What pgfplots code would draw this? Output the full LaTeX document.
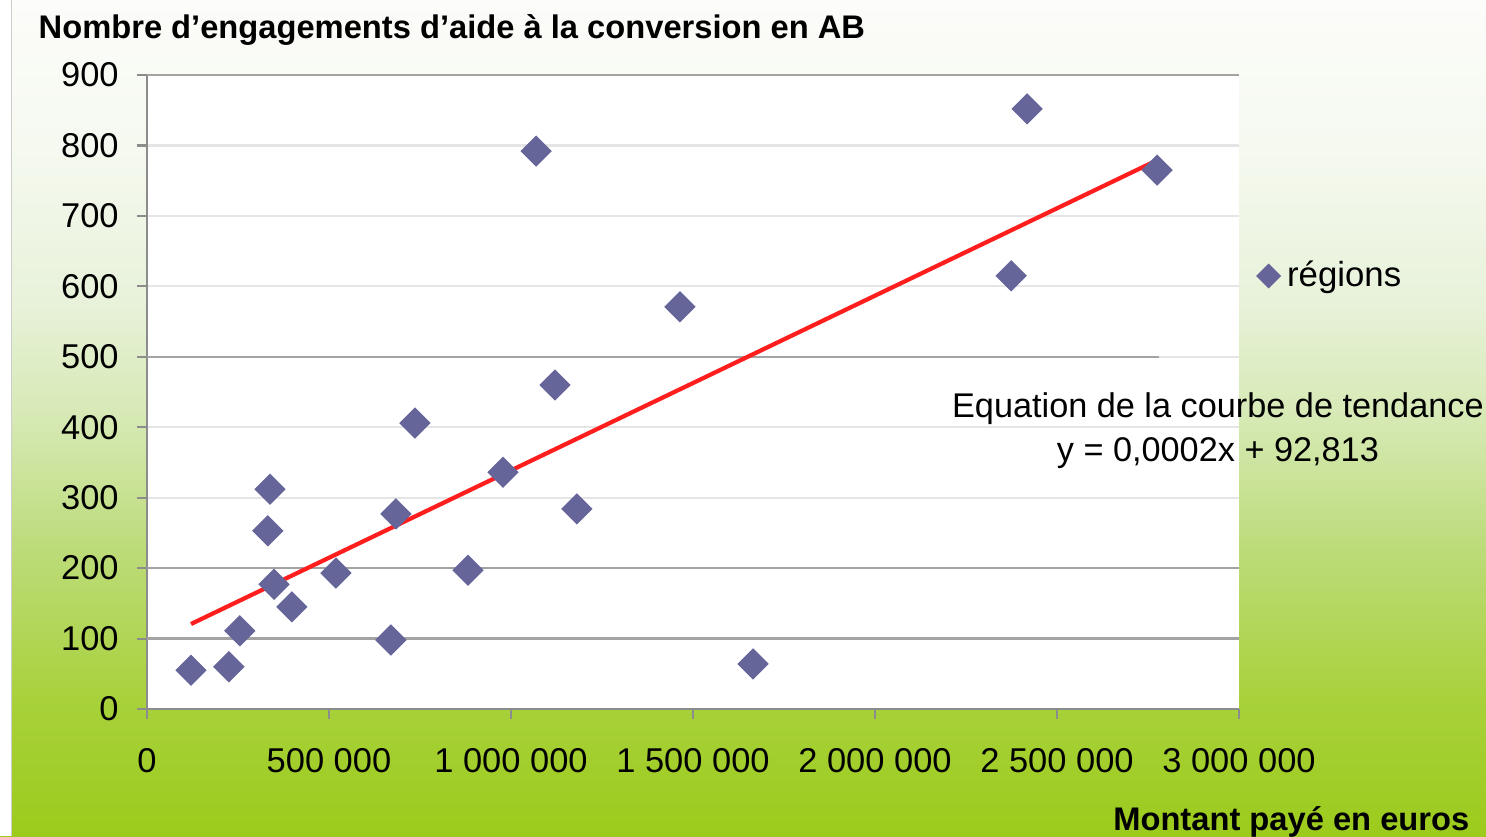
\documentclass[border=0pt]{standalone}
\usepackage{pgfplots}
\pgfplotsset{compat=1.18}
\usepackage{fontspec}
\setmainfont{Liberation Sans}
\definecolor{mk}{HTML}{65659A}
\definecolor{trend}{HTML}{FF1E1E}
\definecolor{axgray}{HTML}{8C8C8C}
\definecolor{g0}{HTML}{9CCB1C}
\definecolor{g1}{HTML}{A8D13A}
\definecolor{g2}{HTML}{BCDB78}
\definecolor{g3}{HTML}{D6E9B4}
\definecolor{g4}{HTML}{E8F2DA}
\definecolor{g5}{HTML}{F5F9EF}
\definecolor{g6}{HTML}{FCFCFA}
\pgfdeclareverticalshading{bgshade}{100bp}{color(0bp)=(g0); color(25bp)=(g0); color(33bp)=(g1); color(42bp)=(g2); color(50bp)=(g3); color(57bp)=(g4); color(66bp)=(g5); color(75bp)=(g6); color(100bp)=(g6)}
\pgfplotstableread{
x y
121000 55
225000 60
255000 111
338000 312
332000 253
349000 177
398000 145
519000 193
670000 98
684000 277
736000 406
882000 197
978000 336
1069000 792
1121000 460
1181000 284
1464000 571
1665000 64
2374000 615
2418000 852
2775000 765
}\regions
\begin{document}
\begin{tikzpicture}[x=1mm,y=1mm]
\useasboundingbox (0,0) rectangle (148.6,83.6);
\shade[shading=bgshade] (0,0) rectangle (148.6,83.6);
\fill[white] (0,0) rectangle (1.1,83.6);
\draw[gray!40, line width=0.3pt] (1.15,0) -- (1.15,83.6);
\begin{axis}[
  at={(14.7mm,12.7mm)}, anchor=south west,
  scale only axis, width=109.2mm, height=63.4mm,
  xmin=0, xmax=3000000, ymin=0, ymax=900,
  axis background/.style={fill=white},
  axis x line*=bottom, axis y line*=left,
  axis line style={axgray, line width=0.8pt, -},
  xtick={0,500000,1000000,1500000,2000000,2500000,3000000},
  xticklabels={0,500 000,1 000 000,1 500 000,2 000 000,2 500 000,3 000 000},
  scaled x ticks=false,
  ytick={0,100,200,300,400,500,600,700,800,900},
  tick align=outside, major tick length=1mm,
  tick style={axgray, line width=0.6pt},
  ymajorgrids, grid style={gray!20, line width=0.6pt},
  tick label style={font=\fontsize{9.8}{11}\selectfont, black},
  yticklabel style={xshift=-0.6mm},
  xticklabel style={yshift=-1.7mm},
  /pgf/number format/assume math mode=true,
  clip=false,
  legend style={at={(rel axis cs:1.016,0.683)}, anchor=west, draw=none, fill=none,
    font=\fontsize{9.9}{11}\selectfont, inner sep=0pt},
  legend cell align=left,
  legend image code/.code={\draw[#1, mark size=2.3pt] plot coordinates {(0.15cm,0cm)};},
]
\draw[axgray!80, line width=0.7pt] (axis cs:0,100) -- (axis cs:3000000,100);
\draw[axgray!80, line width=0.7pt] (axis cs:0,200) -- (axis cs:3000000,200);
\draw[axgray!80, line width=0.7pt] (axis cs:0,500) -- (axis cs:2780000,500);
\draw[axgray!80, line width=0.7pt] (axis cs:0,900) -- (axis cs:3000000,900);
\addplot[only marks, mark=square*, mark size=2.95pt, mark options={rotate=45, fill=mk, draw=mk}]
  table[x=x, y=y] {\regions};
\addlegendentry{régions}
\addplot[trend, line width=1.2pt, forget plot] coordinates {(121000,120.7) (2775000,779)};
\node[anchor=base, font=\fontsize{9.75}{11}\selectfont] at (axis cs:2942000,414) {Equation de la courbe de tendance};
\node[anchor=base, font=\fontsize{9.75}{11}\selectfont] at (axis cs:2942000,352) {y = 0,0002x + 92,813};
\end{axis}
\node[anchor=base west, inner sep=0pt, font=\bfseries\fontsize{9.3}{11}\selectfont] at (3.8,79.8) {Nombre d’engagements d’aide à la conversion en AB};
\node[anchor=base east, inner sep=0pt, font=\bfseries\fontsize{9.3}{11}\selectfont] at (147.0,0.6) {Montant payé en euros};
\end{tikzpicture}
\end{document}
